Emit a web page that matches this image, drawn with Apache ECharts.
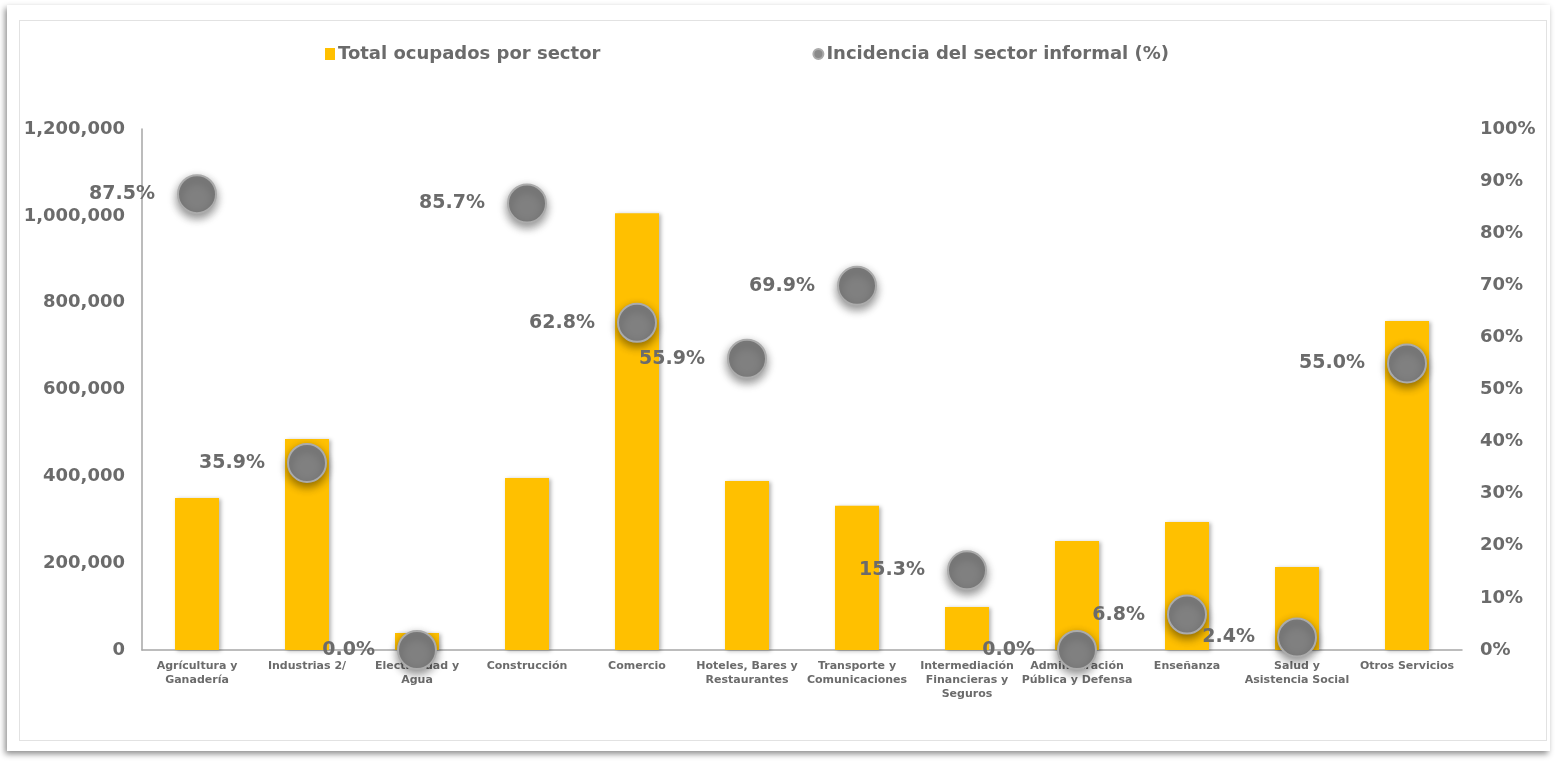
<!DOCTYPE html>
<html>
<head>
<meta charset="utf-8">
<script src="https://cdn.jsdelivr.net/npm/echarts@6/dist/echarts.min.js"></script>
<style>
html,body{margin:0;padding:0;background:#fff;width:1564px;height:765px;overflow:hidden;}
#panel{position:absolute;left:7px;top:5px;width:1543px;height:746px;background:#fff;box-shadow:-2px 3px 6px rgba(0,0,0,0.45);}
#inner{position:absolute;left:19px;top:20px;width:1526px;height:719px;border:1px solid #e2e2e2;}
#chart{position:absolute;left:0;top:0;width:1564px;height:765px;}
</style>
</head>
<body>
<div id="panel"></div>
<div id="inner"></div>
<div id="chart"></div>
<script>
const categories = [
  'Agrícultura y\nGanadería',
  'Industrias 2/',
  'Electricidad y\nAgua',
  'Construcción',
  'Comercio',
  'Hoteles, Bares y\nRestaurantes',
  'Transporte y\nComunicaciones',
  'Intermediación\nFinancieras y\nSeguros',
  'Administración\nPública y Defensa',
  'Enseñanza',
  'Salud y\nAsistencia Social',
  'Otros Servicios'
];
const ocupados = [350000, 486000, 39000, 396000, 1006000, 389000, 332000, 99000, 251000, 295000, 191000, 758000];
const incidencia = [87.5, 35.9, 0.0, 85.7, 62.8, 55.9, 69.9, 15.3, 0.0, 6.8, 2.4, 55.0];
const seriesNames = ['Total ocupados por sector', 'Incidencia del sector informal (%)'];

const txt = '#6b6b6b';
const font = 'DejaVu Sans';
const chart = echarts.init(document.getElementById('chart'), null, {renderer: 'canvas'});
chart.setOption({
  animation: false,
  backgroundColor: 'transparent',
  textStyle: {fontFamily: font},
  legend: {
    left: 320, top: 40,
    itemGap: 212,
    itemWidth: 10, itemHeight: 12,
    textStyle: {fontFamily: font, fontSize: 18, fontWeight: 'bold', color: txt, padding: [0,0,0,-2]},
    data: [
      {name: seriesNames[0], icon: 'rect', itemStyle: {color: '#FFC000'}},
      {name: seriesNames[1], icon: 'circle', itemStyle: {color: '#8a8a8a'}}
    ]
  },
  grid: {left: 142, right: 102, top: 129, bottom: 115, containLabel: false},
  xAxis: {
    type: 'category',
    data: categories,
    axisLine: {show: true, lineStyle: {color: '#a6a6a6', width: 1.5}},
    axisTick: {show: false},
    axisLabel: {interval: 0, margin: 9, fontSize: 11, fontWeight: 'bold', color: txt, lineHeight: 14,
      fontFamily: font}
  },
  yAxis: [
    {
      type: 'value', min: 0, max: 1200000, interval: 200000,
      axisLine: {show: true, lineStyle: {color: '#a6a6a6', width: 1.5}},
      axisTick: {show: false},
      splitLine: {show: false},
      axisLabel: {margin: 17, fontSize: 18, fontWeight: 'bold', color: txt,
        formatter: v => v.toLocaleString('en-US')}
    },
    {
      type: 'value', min: 0, max: 100, interval: 10,
      axisLine: {show: false}, axisTick: {show: false}, splitLine: {show: false},
      axisLabel: {margin: 18, fontSize: 18, fontWeight: 'bold', color: txt, formatter: '{value}%'}
    }
  ],
  series: [
    {
      name: seriesNames[0], type: 'bar', data: ocupados, barWidth: 44, yAxisIndex: 0,
      itemStyle: {color: '#FFC000', shadowBlur: 4, shadowOffsetX: 2, shadowOffsetY: 1, shadowColor: 'rgba(0,0,0,0.3)'}
    },
    {
      name: seriesNames[1], type: 'scatter', data: incidencia, yAxisIndex: 1, symbolSize: 38, z: 5,
      itemStyle: {color: '#808080', opacity: 1, borderColor: '#ababab', borderWidth: 2,
        shadowBlur: 10, shadowOffsetY: 4, shadowColor: 'rgba(0,0,0,0.45)'},
      label: {show: true, position: 'left', distance: 22, fontSize: 19, fontWeight: 'bold', color: txt,
        formatter: p => p.value.toFixed(1) + '%'}
    }
  ]
});
</script>
</body>
</html>
